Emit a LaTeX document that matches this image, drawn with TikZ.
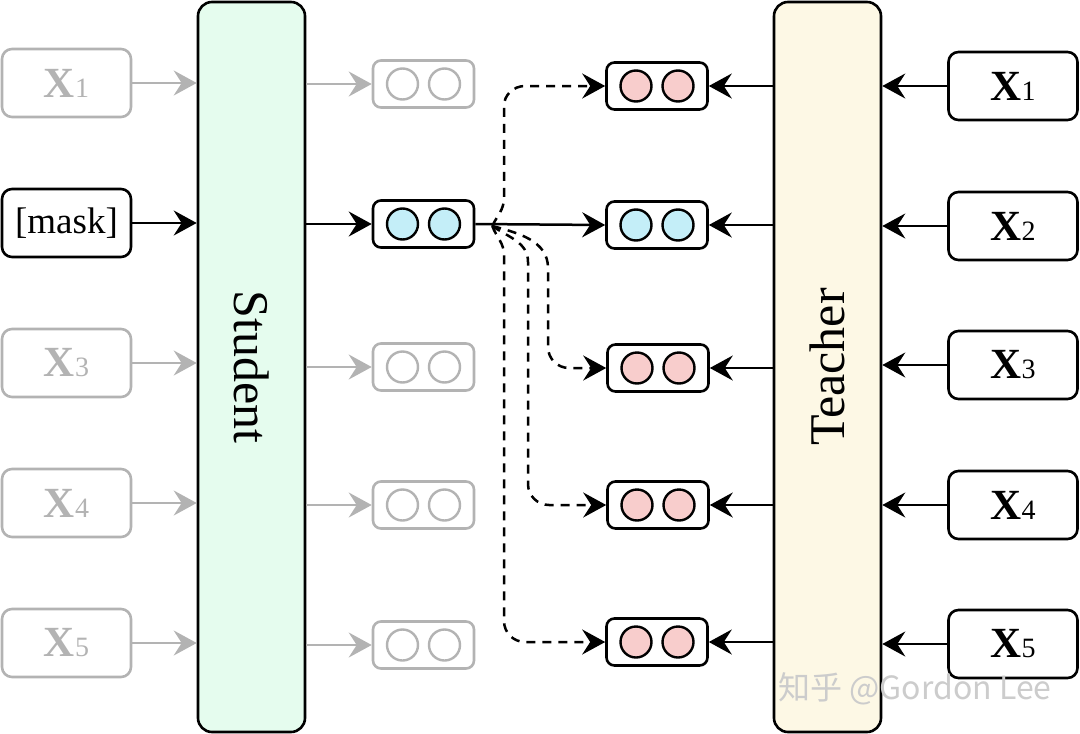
\documentclass[tikz,border=0pt]{standalone}
\usepackage{fontspec}
\setmainfont{Liberation Serif}
\newfontfamily\cjk{Noto Sans CJK SC}
\usetikzlibrary{arrows.meta,calc}
\definecolor{stucol}{HTML}{E5FCEE}
\definecolor{teacol}{HTML}{FDF8E5}
\definecolor{pk}{HTML}{F8CDCC}
\definecolor{bl}{HTML}{C4EEF8}
\definecolor{gh}{HTML}{B3B3B3}
\newcommand{\xlab}[1]{{\fontsize{43}{43}\selectfont\bfseries X\fontsize{28}{28}\selectfont\mdseries #1}}
\begin{document}
\begin{tikzpicture}[x=1pt,y=1pt,
  tip/.tip={Stealth[length=23pt,width=25pt,inset=8pt]},
  inbox/.style={draw,line width=2.6pt,rounded corners=10pt,minimum width=129pt,minimum height=68pt,inner sep=0pt},
  tokbox/.style={draw,line width=2.6pt,rounded corners=8pt,minimum width=101pt,minimum height=47pt,fill=white,inner sep=0pt},
  dotc/.style={circle,draw,line width=2.4pt,minimum size=31pt,inner sep=0pt},
  ghost/.style={draw=gh,text=gh},
  bigbox/.style={draw,line width=2.6pt,rounded corners=14pt,minimum width=107pt,minimum height=730pt,inner sep=0pt},
  conn/.style={line width=2.5pt,-tip},
  gconn/.style={line width=2.5pt,draw=gh,-{Stealth[length=23pt,width=25pt,inset=8pt,gh]}},
  dsh/.style={line width=2.5pt,dash pattern=on 9pt off 7pt,-tip},
]
\useasboundingbox (0,0) rectangle (1080,-734);

% main blocks
\node[bigbox,fill=stucol] (stu) at (251.5,-367) {};
\node[rotate=-90,font=\fontsize{50}{50}\selectfont] (stut) at (stu.center) {Student};
\node[bigbox,fill=teacol] (tea) at (827.5,-367) {};
\node[rotate=90,font=\fontsize{50}{50}\selectfont] (teat) at (tea.center) {Teacher};

% left inputs
\node[inbox,ghost] (l1) at (66.5,-83) {\xlab{1}};
\node[inbox] (l2) at (66.5,-223) {\fontsize{37}{37}\selectfont [mask]};
\node[inbox,ghost] (l3) at (66.5,-363) {\xlab{3}};
\node[inbox,ghost] (l4) at (66.5,-503) {\xlab{4}};
\node[inbox,ghost] (l5) at (66.5,-643) {\xlab{5}};

% student outputs
\node[tokbox,ghost] (s1) at (423.5,-84) {};
\node[tokbox] (s2) at (423.5,-224) {};
\node[tokbox,ghost] (s3) at (423.5,-367) {};
\node[tokbox,ghost] (s4) at (423.5,-505) {};
\node[tokbox,ghost] (s5) at (423.5,-645) {};
\foreach \n in {s1,s3,s4,s5}{
  \node[dotc,draw=gh] (\n a) at ($(\n)+(-21,0)$) {};
  \node[dotc,draw=gh] (\n b) at ($(\n)+(21,0)$) {};
}
\node[dotc,fill=bl] (s2a) at ($(s2)+(-21,0)$) {};
\node[dotc,fill=bl] (s2b) at ($(s2)+(21,0)$) {};

% teacher outputs
\node[tokbox] (t1) at (657,-86) {};
\node[tokbox] (t2) at (657,-225) {};
\node[tokbox] (t3) at (658,-368) {};
\node[tokbox] (t4) at (658,-505) {};
\node[tokbox] (t5) at (657,-642) {};
\foreach \n in {t1,t3,t4,t5}{
  \node[dotc,fill=pk] (\n a) at ($(\n)+(-21,0)$) {};
  \node[dotc,fill=pk] (\n b) at ($(\n)+(21,0)$) {};
}
\node[dotc,fill=bl] (t2a) at ($(t2)+(-21,0)$) {};
\node[dotc,fill=bl] (t2b) at ($(t2)+(21,0)$) {};

% right inputs
\node[inbox] (r1) at (1013,-86) {\xlab{1}};
\node[inbox] (r2) at (1013,-226) {\xlab{2}};
\node[inbox] (r3) at (1013,-365) {\xlab{3}};
\node[inbox] (r4) at (1013,-505) {\xlab{4}};
\node[inbox] (r5) at (1013,-644) {\xlab{5}};

% left inputs -> student
\draw[gconn] (l1.east) -- (stu.west |- l1.east);
\draw[conn] (l2.east) -- (stu.west |- l2.east);
\draw[gconn] (l3.east) -- (stu.west |- l3.east);
\draw[gconn] (l4.east) -- (stu.west |- l4.east);
\draw[gconn] (l5.east) -- (stu.west |- l5.east);

% student -> outputs
\draw[gconn] (stu.east |- s1.west) -- (s1.west);
\draw[conn] (stu.east |- s2.west) -- (s2.west);
\draw[gconn] (stu.east |- s3.west) -- (s3.west);
\draw[gconn] (stu.east |- s4.west) -- (s4.west);
\draw[gconn] (stu.east |- s5.west) -- (s5.west);

% student masked output -> teacher output
\draw[conn] (s2.east) -- (t2.west);

% teacher -> outputs
\foreach \n in {t1,t2,t3,t4,t5}{
  \draw[conn] (tea.west |- \n.east) -- (\n.east);
}
% right inputs -> teacher
\foreach \n in {r1,r2,r3,r4,r5}{
  \draw[conn] (\n.west) -- (tea.east |- \n.west);
}

% dashed connectors
\coordinate (fork) at ($(s2.east)+(17,-2)$);
\draw[dsh] (fork) to[out=65,in=-90] (504,-198) -- (504,-106) to[out=90,in=180] (525,-86) -- (t1.west);
\draw[dsh] (fork) to[out=-15,in=90] (548,-268) -- (548,-347) to[out=-90,in=180] (569,-368) -- (t3.west);
\draw[dsh] (fork) to[out=-35,in=90] (528,-262) -- (528,-484) to[out=-90,in=180] (549,-505) -- (t4.west);
\draw[dsh] (fork) to[out=-70,in=90] (504,-255) -- (504,-621) to[out=-90,in=180] (525,-642) -- (t5.west);

% watermark
\node[font=\cjk\fontsize{32}{32}\selectfont,text=gray!40,anchor=west,inner sep=0pt] (wm) at (778,-689) {知乎 @Gordon Lee};
\end{tikzpicture}
\end{document}
